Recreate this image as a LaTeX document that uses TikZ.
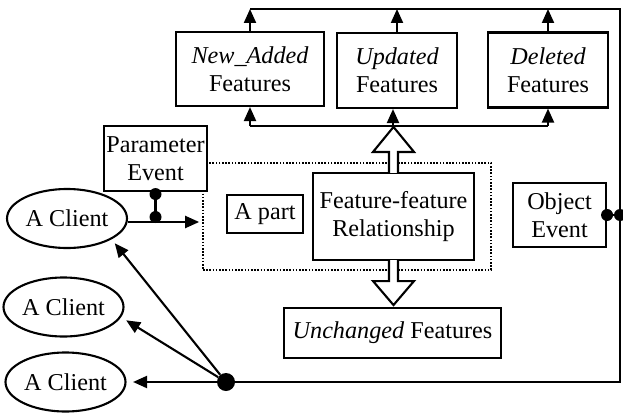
\documentclass[tikz,border=0pt]{standalone}
\usepackage{fontspec}
\setmainfont{Liberation Serif}
\usetikzlibrary{arrows.meta,shapes.geometric,calc}
\begin{document}
\begin{tikzpicture}[x=1pt,y=-1pt,
  every node/.style={font=\fontsize{24.2}{27.8}\selectfont, inner sep=0pt},
  box/.style={draw, line width=2.1pt, fill=white, align=center},
  cli/.style={draw, ellipse, line width=2.1pt, minimum width=120pt, minimum height=59pt},
  ln/.style={line width=2.1pt},
  arr/.style={ln, -{Triangle[length=14pt,width=12pt]}},
  blob/.style={circle, fill=black, draw=none, inner sep=0pt, minimum size=#1},
  hollow/.style={draw, line width=2.1pt, fill=white, line join=miter},
  grpbox/.style={draw, line width=1.7pt, dash pattern=on 1.6pt off 1.6pt}
]
\useasboundingbox (0,0) rectangle (623,412);

% group (dotted)
\node[grpbox, minimum width=288pt, minimum height=107pt] (grp) at (347,216.5) {};

% boxes
\node[box, minimum width=148pt, minimum height=74pt] (NA) at (250,69) {\textit{New\_Added}\\Features};
\node[box, minimum width=120pt, minimum height=75pt] (UP) at (397,70.5) {\textit{Updated}\\Features};
\node[box, minimum width=120pt, minimum height=75pt] (DE) at (548,70) {\textit{Deleted}\\Features};
\node[box, minimum width=161pt, minimum height=87pt] (FF) at (393.5,216.5) {Feature-feature\\Relationship};
\node[box, minimum width=76pt, minimum height=38pt] (AP) at (265,214) {A part};
\node[box, minimum width=217pt, minimum height=50pt] (UN) at (392.5,333) {\textit{Unchanged} Features};
\node[box, minimum width=103pt, minimum height=65pt] (PE) at (155.5,158.5) {Parameter\\Event};
\node[box, minimum width=93pt, minimum height=64pt] (OE) at (559.5,215) {Object\\Event};

% clients
\node[cli] (C1) at (67,218.5) {A Client};
\node[cli] (C2) at (63.5,307) {A Client};
\node[cli] (C3) at (65.5,382) {A Client};

% hollow arrows
\draw[hollow] ($(FF.north)+(-4.5,1)$) -- ($(FF.north)+(-4.5,-20)$) -- ($(FF.north)+(-20.5,-20)$) -- ($(FF.north)+(0,-45)$) -- ($(FF.north)+(20.5,-20)$) -- ($(FF.north)+(4.5,-20)$) -- ($(FF.north)+(4.5,1)$);
\draw[hollow] ($(FF.south)+(-4.5,-1)$) -- ($(FF.south)+(-4.5,20)$) -- ($(FF.south)+(-20.5,20)$) -- ($(FF.south)+(0,44)$) -- ($(FF.south)+(20.5,20)$) -- ($(FF.south)+(4.5,20)$) -- ($(FF.south)+(4.5,-1)$);

% coordinates
\coordinate (TR) at (620,9);
\coordinate (BR) at (620,382);
\coordinate (mid) at (0,126);
\coordinate (upb) at ($(UP.south)+(-4,0)$);

% hub
\node[blob=18pt] (hub) at (226,382) {};

% top and outer loop
\draw[ln] (NA.north |- TR) -- (TR) -- (BR) -- (hub);
\draw[arr] (NA.north) -- (NA.north |- TR);
\draw[arr] (UP.north) -- (UP.north |- TR);
\draw[arr] (DE.north) -- (DE.north |- TR);

% middle distribution line
\draw[ln] (NA.south |- mid) -- (DE.south |- mid);
\draw[arr] (NA.south |- mid) -- (NA.south);
\draw[arr] (upb |- mid) -- (upb);
\draw[arr] (DE.south |- mid) -- (DE.south);

% client 1 to group
\coordinate (c1o) at ($(C1.east)+(0,3.5)$);
\draw[arr, shorten >=3pt] (c1o) -- (c1o -| grp.west);
\draw[ln] (PE.south) -- (PE.south |- c1o);
\node[blob=12pt] (pd1) at ($(PE.south)+(0,2)$) {};
\node[blob=12pt] (pd2) at ($(PE.south |- c1o)+(0,-5)$) {};

% object event
\coordinate (oe2) at (OE.east -| TR);
\draw[ln] (OE.east) -- (oe2);
\node[blob=12pt] (od1) at (OE.east) {};
\node[blob=12pt] (od2) at (oe2) {};

% hub to clients
\draw[arr, shorten >=5pt] (hub) -- (C1.-25);
\draw[arr, shorten >=6pt] (hub) -- (C2.-10);
\draw[arr, shorten >=6.5pt] (hub) -- (C3.east);
\end{tikzpicture}
\end{document}
